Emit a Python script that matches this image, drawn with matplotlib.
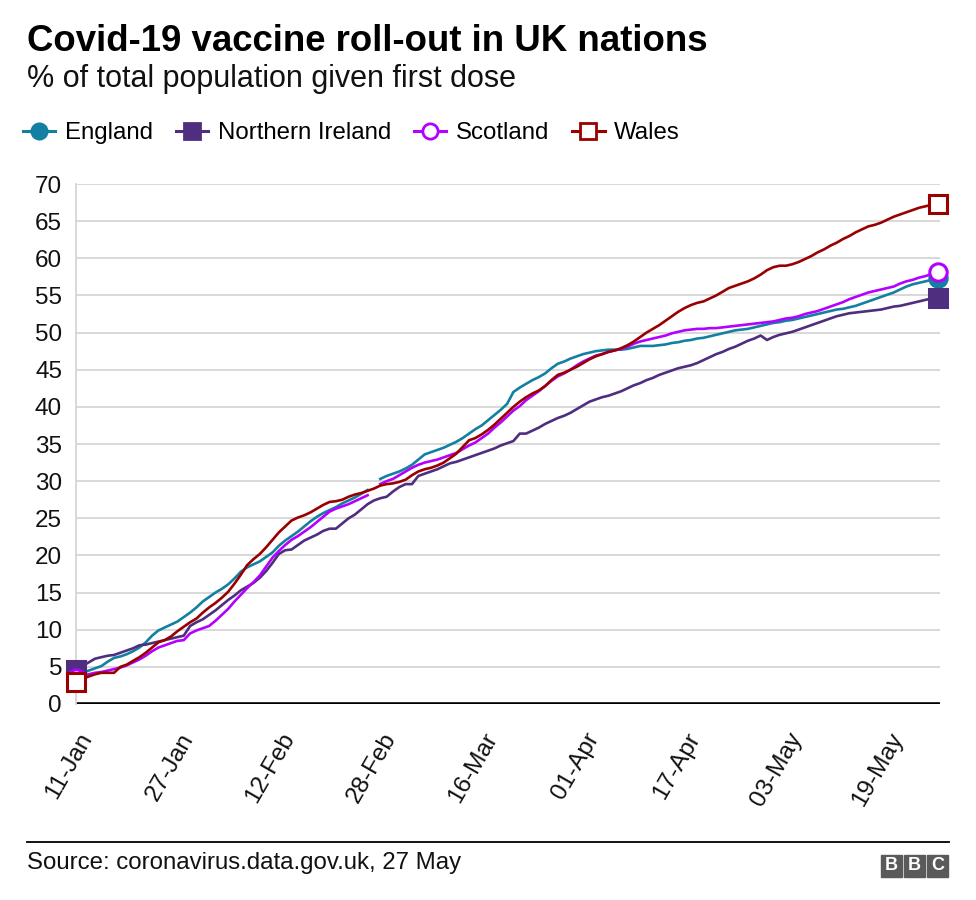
import numpy as np
import pandas as pd
import matplotlib
matplotlib.use("Agg")
import matplotlib.pyplot as plt
import matplotlib.dates as mdates
import matplotlib.transforms as mtrans
from matplotlib.lines import Line2D
from matplotlib.patches import Rectangle

plt.rcParams['font.family'] = ['Liberation Sans', 'DejaVu Sans']

nan = np.nan

# daily share of population with a first dose, 10 Jan - 26 May 2021
dates = pd.date_range('2021-01-10', '2021-05-26', freq='D')

england = [3.9, 4.2, 4.5, 4.8, 5.1, 5.7, 6.2, 6.4, 6.7, 7.1,
           7.6, 8.3, 9.2, 9.9, 10.3, 10.7, 11.1, 11.7, 12.3, 13.0,
           13.8, 14.4, 15.0, 15.5, 16.1, 16.9, 17.8, 18.4, 18.8, 19.2,
           19.8, 20.4, 21.3, 22.0, 22.6, 23.2, 23.9, 24.6, 25.2, 25.7,
           26.1, 26.5, 27.0, 27.4, 27.8, 28.3, 28.8, nan, 30.3, 30.7,
           31.0, 31.3, 31.7, 32.2, 32.9, 33.6, 33.9, 34.2, 34.5, 34.9,
           35.3, 35.8, 36.4, 37.0, 37.5, 38.2, 38.9, 39.6, 40.4, 42.0,
           42.6, 43.1, 43.6, 44.0, 44.5, 45.2, 45.8, 46.1, 46.5, 46.8,
           47.1, 47.3, 47.5, 47.6, 47.7, 47.7, 47.7, 47.8, 48.0, 48.2,
           48.2, 48.2, 48.3, 48.4, 48.6, 48.7, 48.9, 49.0, 49.2, 49.3,
           49.5, 49.7, 49.9, 50.1, 50.3, 50.4, 50.5, 50.7, 50.9, 51.1,
           51.3, 51.4, 51.6, 51.7, 51.9, 52.1, 52.3, 52.5, 52.7, 52.9,
           53.1, 53.2, 53.4, 53.6, 53.9, 54.2, 54.5, 54.8, 55.1, 55.4,
           55.8, 56.2, 56.5, 56.7, 56.9, 57.1, 57.4]

northern_ireland = [4.6, 5.1, 5.6, 6.1, 6.3, 6.5, 6.6, 6.9, 7.2, 7.5,
                    7.9, 8.0, 8.2, 8.4, 8.6, 8.8, 9.0, 9.2, 10.5, 11.0,
                    11.4, 12.0, 12.6, 13.3, 14.0, 14.6, 15.3, 15.8, 16.3, 17.0,
                    17.9, 19.0, 20.2, 20.7, 20.8, 21.4, 22.0, 22.4, 22.8, 23.3,
                    23.6, 23.6, 24.3, 25.0, 25.5, 26.2, 26.9, 27.4, 27.7, 27.9,
                    28.6, 29.2, 29.6, 29.6, 30.7, 31.0, 31.3, 31.6, 32.0, 32.4,
                    32.6, 32.9, 33.2, 33.5, 33.8, 34.1, 34.4, 34.8, 35.1, 35.4,
                    36.4, 36.4, 36.8, 37.2, 37.7, 38.1, 38.5, 38.8, 39.2, 39.7,
                    40.2, 40.7, 41.0, 41.3, 41.5, 41.8, 42.1, 42.5, 42.9, 43.2,
                    43.6, 43.9, 44.3, 44.6, 44.9, 45.2, 45.4, 45.6, 45.9, 46.3,
                    46.7, 47.1, 47.4, 47.8, 48.1, 48.5, 48.9, 49.2, 49.6, 49.0,
                    49.4, 49.7, 49.9, 50.1, 50.4, 50.7, 51.0, 51.3, 51.6, 51.9,
                    52.2, 52.4, 52.6, 52.7, 52.8, 52.9, 53.0, 53.1, 53.3, 53.5,
                    53.6, 53.8, 54.0, 54.2, 54.4, 54.6, 54.7]

scotland = [3.5, 3.8, 4.0, 4.2, 4.3, 4.5, 4.7, 4.9, 5.2, 5.6,
            6.0, 6.5, 7.1, 7.6, 7.9, 8.2, 8.5, 8.6, 9.5, 9.9,
            10.2, 10.5, 11.2, 12.0, 12.8, 13.8, 14.7, 15.6, 16.4, 17.3,
            18.5, 19.7, 20.6, 21.4, 22.1, 22.6, 23.2, 23.8, 24.5, 25.2,
            25.9, 26.3, 26.6, 26.9, 27.3, 27.7, 28.1, nan, 29.6, 30.0,
            30.3, 30.8, 31.3, 31.8, 32.2, 32.5, 32.7, 32.9, 33.2, 33.5,
            33.8, 34.3, 34.8, 35.2, 35.8, 36.4, 37.2, 37.9, 38.7, 39.5,
            40.1, 40.9, 41.5, 42.1, 42.8, 43.5, 44.1, 44.5, 45.0, 45.6,
            46.1, 46.5, 46.9, 47.1, 47.4, 47.6, 47.8, 48.1, 48.5, 48.8,
            49.0, 49.2, 49.4, 49.6, 49.9, 50.1, 50.3, 50.4, 50.5, 50.5,
            50.6, 50.6, 50.7, 50.8, 50.9, 51.0, 51.1, 51.2, 51.3, 51.4,
            51.5, 51.7, 51.9, 52.0, 52.2, 52.5, 52.7, 52.9, 53.2, 53.5,
            53.8, 54.1, 54.5, 54.8, 55.1, 55.4, 55.6, 55.8, 56.0, 56.2,
            56.6, 56.9, 57.1, 57.4, 57.6, 57.9, 58.2]

wales = [2.9, 3.4, 3.7, 4.0, 4.2, 4.2, 4.2, 5.0, 5.3, 5.8,
         6.3, 6.9, 7.6, 8.3, 8.6, 9.1, 9.8, 10.4, 11.0, 11.5,
         12.3, 13.0, 13.6, 14.3, 15.1, 16.2, 17.4, 18.7, 19.5, 20.2,
         21.1, 22.1, 23.1, 23.9, 24.7, 25.1, 25.4, 25.8, 26.3, 26.8,
         27.2, 27.3, 27.5, 27.9, 28.2, 28.4, 28.7, 29.0, 29.4, 29.6,
         29.7, 29.9, 30.2, 30.8, 31.3, 31.6, 31.8, 32.1, 32.5, 33.1,
         33.7, 34.6, 35.5, 35.8, 36.3, 36.9, 37.6, 38.4, 39.2, 40.0,
         40.7, 41.3, 41.8, 42.2, 42.8, 43.6, 44.3, 44.6, 45.0, 45.4,
         45.9, 46.4, 46.8, 47.1, 47.4, 47.6, 47.9, 48.3, 48.8, 49.4,
         50.0, 50.5, 51.0, 51.6, 52.2, 52.8, 53.3, 53.7, 54.0, 54.2,
         54.6, 55.0, 55.5, 56.0, 56.3, 56.6, 56.9, 57.3, 57.8, 58.4,
         58.8, 59.0, 59.0, 59.2, 59.5, 59.9, 60.3, 60.8, 61.2, 61.7,
         62.1, 62.6, 63.0, 63.5, 63.9, 64.3, 64.5, 64.8, 65.2, 65.6,
         65.9, 66.2, 66.5, 66.8, 67.0, 67.2, 67.3]

names = ['England', 'Northern Ireland', 'Scotland', 'Wales']
colours = ['#1380A1', '#4F2D7F', '#B400FF', '#990000']
markers = ['o', 's', 'o', 's']
faces = ['#1380A1', '#4F2D7F', 'white', 'white']

tick_dates = pd.date_range('2021-01-11', '2021-05-19', freq='16D')
y_ticks = list(range(0, 75, 5))

W, H = 976, 900
fig = plt.figure(figsize=(W / 100, H / 100), dpi=100)
ax = fig.add_axes([76 / W, 1 - 704 / H, (940 - 76) / W, (704 - 184) / H])

for name, vals, col, mk, fc in zip(names, [england, northern_ireland, scotland, wales],
                                   colours, markers, faces):
    v = np.array(vals, dtype=float)
    ax.plot(dates, v, color=col, lw=1.9, solid_joinstyle='round', zorder=3)
    # markers at the first and last day
    ax.plot([dates[0], dates[-1]], [v[0], v[-1]], ls='none', marker=mk, ms=12.5,
            mfc=fc, mec=col, mew=2.2, clip_on=False, zorder=4)

ax.set_ylim(0, 70)
ax.set_xlim(dates[0], dates[-1] + pd.Timedelta(hours=7))
ax.set_yticks(y_ticks)
ax.grid(axis='y', color='#d6d6d6', lw=1.3)
ax.set_axisbelow(True)
ax.axhline(0, color='black', lw=2.6, zorder=2)

for s in ['top', 'right', 'bottom']:
    ax.spines[s].set_visible(False)
ax.spines['left'].set_color('#d6d6d6')
ax.spines['left'].set_linewidth(1.3)

ax.set_xticks(tick_dates)
ax.xaxis.set_major_formatter(mdates.DateFormatter('%d-%b'))
ax.tick_params(axis='both', length=0, labelsize=17.5, colors='#111111')
ax.tick_params(axis='y', pad=10)
ax.tick_params(axis='x', pad=18)
offset = mtrans.ScaledTranslation(-5 / 100, 0, fig.dpi_scale_trans)
for lab in ax.get_xticklabels():
    lab.set_rotation(60)
    lab.set_ha('right')
    lab.set_va('top')
    lab.set_rotation_mode('anchor')
    lab.set_transform(lab.get_transform() + offset)

# title block
fig.text(27 / W, 1 - 51 / H, 'Covid-19 vaccine roll-out in UK nations',
         fontsize=26.4, fontweight='bold', va='baseline', ha='left')
fig.text(27 / W, 1 - 87 / H, '% of total population given first dose',
         fontsize=22, va='baseline', ha='left', color='#111111')

handles = [Line2D([], [], color=c, lw=2.2, marker=m, ms=11, mfc=f, mec=c, mew=2)
           for c, m, f in zip(colours, markers, faces)]
fig.legend(handles, names, loc='center left', bbox_to_anchor=(23 / W, 1 - 133 / H),
           ncol=4, frameon=False, fontsize=17.3, handlelength=1.35,
           handletextpad=0.4, columnspacing=0.95, borderpad=0, borderaxespad=0)

# footer
fig.add_artist(Line2D([27 / W, 949 / W], [1 - 842 / H, 1 - 842 / H],
                      color='black', lw=1.3, transform=fig.transFigure))
fig.text(27 / W, 1 - 863 / H, 'Source: coronavirus.data.gov.uk, 27 May',
         fontsize=17.3, va='center', ha='left', color='#111111')
for i, letter in enumerate('BBC'):
    x0 = 881 + i * 23
    fig.add_artist(Rectangle((x0 / W, 1 - 877 / H), 21 / W, 22 / H,
                             color='#5a5a5a', transform=fig.transFigure))
    fig.text((x0 + 10.5) / W, 1 - 866 / H, letter, color='white', fontsize=13,
             fontweight='bold', ha='center', va='center')

fig.savefig('out.png', dpi=100)
